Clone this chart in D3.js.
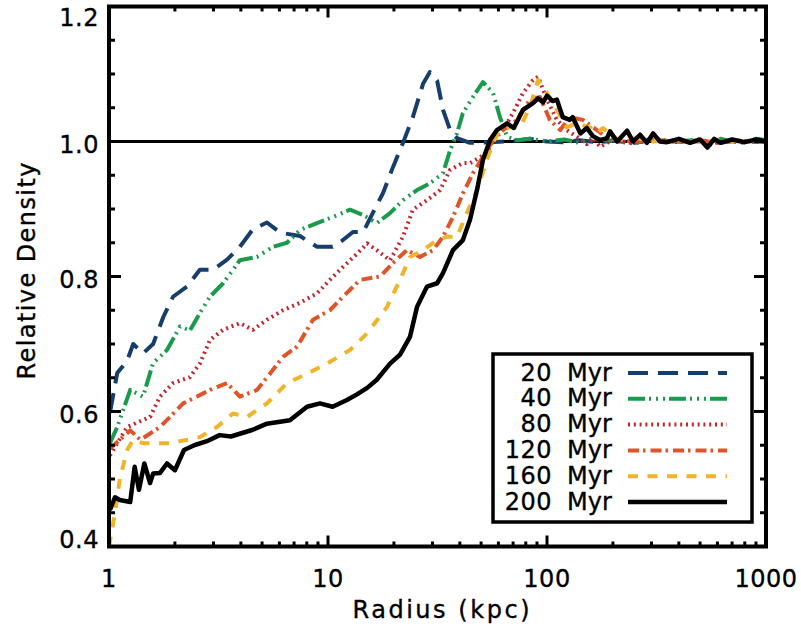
<!doctype html>
<html>
  <head>
    <script src="https://cdnjs.cloudflare.com/ajax/libs/d3/7.8.5/d3.min.js" type="text/JavaScript"></script>
    <style>
      body { margin: 0; background: #fff; }
      text { font-family: "DejaVu Sans", sans-serif; fill: #000; stroke: #000; stroke-width: 0.35px; }
    </style>
  </head>
  <body>
    <svg width="801" height="633"></svg>
    <script>
        // radius (kpc), relative density
        var myr20 = [[1.01,0.598],[1.09,0.657],[1.21,0.675],[1.29,0.70],[1.43,0.686],[1.59,0.70],[1.77,0.74],[1.96,0.77],
            [2.27,0.785],[2.60,0.81],[2.99,0.81],[3.46,0.825],[3.96,0.844],[4.54,0.87],[5.26,0.88],[6.04,0.865],
            [7.45,0.86],[8.91,0.844],[10.5,0.844],[11.7,0.854],[13.0,0.866],[14.5,0.866],[16.0,0.894],[17.8,0.923],
            [19.8,0.962],[22.0,0.998],[24.4,1.036],[27.2,1.086],[29.2,1.103],[31.5,1.09],[33.5,1.047],[36.1,1.017],
            [38.8,1.005],[44.5,0.998],[54.9,0.999],[65,1.0],[75,1.002],[83.6,1.004],[100,1.0],[120,0.999],[140,1.002],
            [170,0.999],[200,1.001],[250,0.998],[300,1.002],[400,1.0],[500,1.001],[600,0.997],[700,1.002],[850,0.999],[1000,1.0]];

        var myr40 = [[1.01,0.553],[1.09,0.577],[1.25,0.632],[1.43,0.622],[1.59,0.672],[1.84,0.691],[2.11,0.726],[2.34,0.72],
            [2.60,0.746],[2.89,0.77],[3.32,0.79],[3.96,0.824],[4.74,0.829],[5.61,0.844],[6.50,0.85],[7.45,0.869],
            [8.91,0.879],[10.5,0.888],[12.6,0.899],[14.5,0.891],[16.7,0.879],[19.2,0.894],[22.0,0.913],[25.5,0.928],
            [29.2,0.938],[33.5,0.953],[36.1,0.987],[38.8,1.012],[41.3,1.042],[45.9,1.066],[51.0,1.088],[56.7,1.072],
            [61.0,1.036],[65.7,1.007],[72.9,1.002],[83.6,1.004],[100,1.0],[120,1.003],[140,0.998],[160,1.004],
            [200,1.001],[250,0.997],[300,1.004],[400,1.0],[500,1.003],[550,0.994],[620,1.004],[700,1.0],[800,0.998],[900,1.004],[1000,1.002]];

        var myr80 = [[1.01,0.535],[1.21,0.577],[1.54,0.592],[1.71,0.622],[1.96,0.642],[2.34,0.651],[2.60,0.671],[2.89,0.706],
            [3.32,0.721],[3.96,0.731],[4.54,0.721],[5.26,0.736],[6.23,0.75],[7.45,0.761],[8.91,0.775],[10.2,0.795],
            [11.7,0.814],[13.6,0.834],[15.1,0.849],[16.7,0.839],[19.2,0.824],[22.0,0.859],[24.4,0.899],[28.3,0.913],
            [32.5,0.928],[36.1,0.958],[41.3,0.968],[44.5,0.968],[53.2,0.983],[56.7,1.002],[63.0,1.017],[69.9,1.042],
            [77.7,1.072],[86.3,1.091],[91.0,1.096],[100,1.062],[111,1.032],[123,1.017],[137,1.007],[152,0.996],
            [162,1.005],[175,0.992],[200,1.003],[240,0.998],[300,1.002],[400,0.999],[500,1.002],[600,0.998],[750,1.001],[1000,1.0]];

        var myr120 = [[1.01,0.545],[1.25,0.572],[1.39,0.558],[1.71,0.577],[1.90,0.592],[2.18,0.612],[2.52,0.622],[2.89,0.632],
            [3.46,0.642],[3.96,0.622],[4.74,0.632],[5.43,0.656],[6.23,0.681],[7.22,0.696],[8.54,0.736],[10.2,0.75],
            [11.7,0.77],[14.0,0.795],[17.3,0.80],[19.8,0.82],[22.9,0.839],[26.3,0.829],[30.2,0.839],[33.5,0.859],
            [37.2,0.888],[41.3,0.923],[45.9,0.953],[53.2,0.987],[59.1,1.012],[65.7,1.021],[72.9,1.032],[83.6,1.062],
            [92.9,1.066],[103,1.032],[115,1.017],[127,1.036],[146,1.032],[169,1.017],[188,1.005],[209,1.002],
            [250,1.0],[300,1.003],[400,0.999],[500,1.002],[600,0.998],[750,1.001],[1000,1.0]];

        var myr160 = [[1.0,0.40],[1.065,0.45],[1.12,0.50],[1.21,0.543],[1.29,0.558],[1.43,0.553],[1.66,0.553],[1.90,0.553],
            [2.27,0.558],[2.60,0.562],[3.11,0.577],[3.68,0.597],[4.27,0.592],[5.26,0.612],[6.50,0.642],[8.02,0.656],
            [9.89,0.671],[12.6,0.691],[15.1,0.716],[18.6,0.755],[21.3,0.795],[23.7,0.829],[27.2,0.839],[31.5,0.854],
            [34.9,0.859],[38.8,0.859],[43.1,0.894],[47.9,0.928],[53.2,0.973],[56.7,0.998],[61.0,1.017],[67.8,1.021],
            [75.3,1.021],[83.6,1.051],[91.0,1.091],[100,1.072],[111,1.047],[123,1.021],[137,1.027],[157,1.021],
            [169,1.012],[180,1.02],[209,1.003],[260,1.005],[300,1.0],[400,1.002],[500,0.999],[600,1.002],[800,1.0],[1000,1.001]];

        var myr200 = [[1.01,0.454],[1.065,0.473],[1.12,0.469],[1.25,0.466],[1.31,0.518],[1.37,0.484],[1.45,0.523],[1.54,0.494],
            [1.59,0.508],[1.71,0.509],[1.84,0.523],[2.0,0.513],[2.2,0.543],[2.45,0.55],[2.8,0.556],[3.2,0.565],
            [3.6,0.563],[4.54,0.573],[5.26,0.582],[6.70,0.587],[8.02,0.607],[9.19,0.612],[10.5,0.607],[12.2,0.617],
            [13.5,0.625],[15.1,0.635],[16.7,0.647],[19.2,0.671],[21.3,0.684],[23.7,0.711],[25.5,0.755],[28.3,0.785],
            [31.5,0.79],[33.5,0.805],[37.2,0.839],[41.3,0.854],[44.5,0.884],[47.9,0.928],[51.0,0.973],[54.9,1.002],
            [59.1,1.017],[65.7,1.027],[70.5,1.02],[77.7,1.047],[86.3,1.057],[91,1.064],[95.9,1.058],[100,1.068],
            [106,1.060],[111,1.062],[118,1.036],[127,1.032],[131,1.036],[142,1.012],[152,1.020],[162,1.008],
            [175,1.002],[188,1.005],[194,1.015],[209,1.000],[232,1.016],[247,1.000],[266,1.010],[286,0.998],
            [305,1.012],[328,1.000],[353,0.999],[400,1.004],[450,0.998],[500,1.003],[540,0.991],[580,1.004],
            [620,0.998],[700,1.003],[800,0.999],[900,1.003],[1000,1.0]];

        var seriesData = [myr20, myr40, myr80, myr120, myr160, myr200];
        var seriesNames = ["20", "40", "80", "120", "160", "200"];
        var seriesColors = ["#163e6c", "#1a9b4b", "#c1272d", "#e0542a", "#f0b429", "#000000"];
        var seriesDash = ["20,10", "17,4,2,5,2,5,2,4", "2,3.8", "11,4,2.5,5", "10,9.5", null];

        var xMajor = [1, 10, 100, 1000];
        var xLabels = ["1", "10", "100", "1000"];
        var yMajor = [0.4, 0.6, 0.8, 1.0, 1.2];
        var yLabels = ["0.4", "0.6", "0.8", "1.0", "1.2"];

        var pLeft = 109, pRight = 766, pTop = 6.5, pBottom = 546.5;
        var x = d3.scaleLog().domain([1, 1000]).range([pLeft, pRight]);
        var y = d3.scaleLinear().domain([0.4, 1.2]).range([pBottom, pTop]);

        var svg = d3.select("svg");
        svg.append("clipPath").attr("id", "plot")
            .append("rect").attr("x", pLeft).attr("y", pTop - 2)
            .attr("width", pRight - pLeft).attr("height", pBottom - pTop + 2);

        // reference line
        svg.append("line")
            .attr("x1", x(1)).attr("x2", x(1000))
            .attr("y1", y(1)).attr("y2", y(1))
            .attr("stroke", "#000").attr("stroke-width", 3);

        var line = d3.line().x(d => x(d[0])).y(d => y(d[1]));

        svg.append("g").attr("clip-path", "url(#plot)")
            .selectAll("path")
            .data(seriesData)
            .enter()
            .append("path")
                .attr("d", line)
                .attr("fill", "none")
                .attr("stroke", (d, i) => seriesColors[i])
                .attr("stroke-width", (d, i) => i == 5 ? 4.5 : 4)
                .attr("stroke-dasharray", (d, i) => seriesDash[i])
                .attr("stroke-linejoin", "round");

        // ticks (inward, on all four sides)
        var xMinor = [];
        [1, 10, 100].forEach(b => { for (var k = 2; k < 10; k++) xMinor.push(b * k); });
        var yMinor = d3.range(0.45, 1.2, 0.05).filter(v => Math.abs(v * 5 - Math.round(v * 5)) > 0.01);

        var ticks = svg.append("g").attr("stroke", "#000").attr("stroke-width", 3);
        function xTick(v, len) {
            ticks.append("line").attr("x1", x(v)).attr("x2", x(v)).attr("y1", pBottom).attr("y2", pBottom - len);
            ticks.append("line").attr("x1", x(v)).attr("x2", x(v)).attr("y1", pTop).attr("y2", pTop + len);
        }
        function yTick(v, len) {
            ticks.append("line").attr("x1", pLeft).attr("x2", pLeft + len).attr("y1", y(v)).attr("y2", y(v));
            ticks.append("line").attr("x1", pRight).attr("x2", pRight - len).attr("y1", y(v)).attr("y2", y(v));
        }
        xMajor.forEach(v => xTick(v, 11));
        xMinor.forEach(v => xTick(v, 5));
        yMajor.forEach(v => yTick(v, 12));
        yMinor.forEach(v => yTick(v, 6));

        svg.append("rect")
            .attr("x", pLeft).attr("y", pTop)
            .attr("width", pRight - pLeft).attr("height", pBottom - pTop)
            .attr("fill", "none").attr("stroke", "#000").attr("stroke-width", 4);

        // tick labels
        svg.selectAll("text.xl")
            .data(xMajor)
            .enter()
            .append("text")
                .attr("class", "xl")
                .attr("x", d => x(d))
                .attr("y", 587)
                .attr("text-anchor", "middle")
                .attr("font-size", 24)
                .attr("letter-spacing", 0.5)
                .text((d, i) => xLabels[i]);

        svg.selectAll("text.yl")
            .data(yMajor)
            .enter()
            .append("text")
                .attr("class", "yl")
                .attr("x", 99)
                .attr("y", d => Math.max(17, Math.min(539, y(d) + 3)) + 8.7)
                .attr("text-anchor", "end")
                .attr("font-size", 24)
                .attr("letter-spacing", 0.5)
                .text((d, i) => yLabels[i]);

        svg.append("text")
            .attr("x", 441).attr("y", 618)
            .attr("text-anchor", "middle")
            .attr("font-size", 24)
            .attr("textLength", 177).attr("lengthAdjust", "spacing")
            .text("Radius (kpc)");

        svg.append("text")
            .attr("transform", "translate(35,271) rotate(-90)")
            .attr("text-anchor", "middle")
            .attr("font-size", 24)
            .attr("textLength", 217).attr("lengthAdjust", "spacing")
            .text("Relative Density");

        // legend
        var legend = svg.append("g");
        legend.append("rect")
            .attr("x", 493).attr("y", 354)
            .attr("width", 259).attr("height", 168)
            .attr("fill", "#fff").attr("stroke", "#000").attr("stroke-width", 3.5);

        var rows = legend.selectAll("g.row")
            .data(seriesNames)
            .enter()
            .append("g")
                .attr("class", "row")
                .attr("transform", (d, i) => "translate(0," + (373 + i * 25.8) + ")");

        rows.append("text")
            .attr("x", 552).attr("y", 7.5)
            .attr("text-anchor", "end")
            .attr("font-size", 24)
            .attr("letter-spacing", 0.5)
            .text(d => d);
        rows.append("text")
            .attr("x", 567).attr("y", 7.5)
            .attr("font-size", 24)
            .text("Myr");
        rows.append("line")
            .attr("x1", 628).attr("x2", 727)
            .attr("y1", 0).attr("y2", 0)
            .attr("stroke", (d, i) => seriesColors[i])
            .attr("stroke-width", (d, i) => i == 5 ? 4.5 : 4)
            .attr("stroke-dasharray", (d, i) => seriesDash[i]);
    </script>
  </body>
</html>
